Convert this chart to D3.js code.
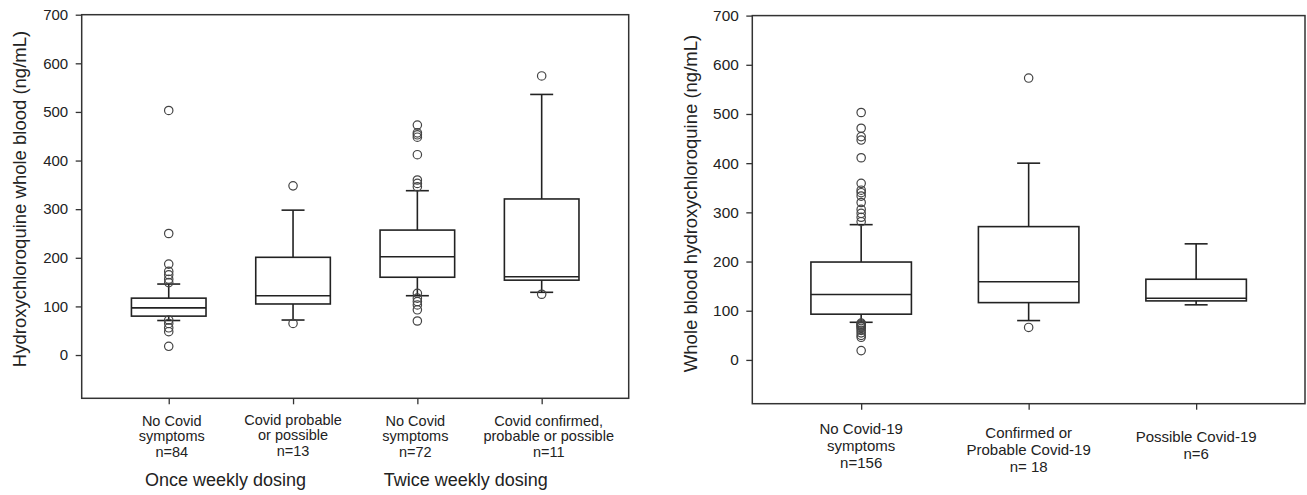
<!DOCTYPE html>
<html>
<head>
<meta charset="utf-8">
<script src="https://cdn.jsdelivr.net/npm/d3@7"></script>
<style>
  body { margin: 0; background: #fff; }
  svg { font-family: Arial, "Liberation Sans", sans-serif; }
</style>
</head>
<body>
<svg width="1307" height="495"></svg>
<script>
// Left panel: dosing groups
const leftLabels = [
  ["No Covid", "symptoms", "n=84"],
  ["Covid probable", "or possible", "n=13"],
  ["No Covid", "symptoms", "n=72"],
  ["Covid confirmed,", "probable or possible", "n=11"]
];
const leftQ1 = [80, 105, 160, 154];
const leftMedian = [97, 122, 202, 161];
const leftQ3 = [117, 201, 257, 321];
const leftWhiskerLow = [71, 72, 122, 129];
const leftWhiskerHigh = [146, 298, 338, 536];
const leftOutliers = [
  [503, 250, 187, 172, 165, 156, 149, 72, 65, 56, 48, 18],
  [348, 65],
  [473, 457, 453, 448, 412, 360, 353, 346, 127, 117, 110, 103, 93, 70],
  [574, 125]
];
const groupLabels = ["Once weekly dosing", "Twice weekly dosing"];

// Right panel: symptom groups
const rightLabels = [
  ["No Covid-19", "symptoms", "n=156"],
  ["Confirmed or", "Probable Covid-19", "n= 18"],
  ["Possible Covid-19", "n=6"]
];
const rightQ1 = [93, 116.5, 120];
const rightMedian = [133, 159, 125.5];
const rightQ3 = [199, 271, 164];
const rightWhiskerLow = [76.5, 80, 112];
const rightWhiskerHigh = [275, 400, 236];
const rightOutliers = [
  [503, 471, 454, 447, 411, 359, 345, 340, 333, 320, 306, 298, 290, 281,
   75, 73, 71, 69, 67, 64, 60, 55, 50, 46, 19],
  [573, 66],
  []
];

const yTicks = [0, 100, 200, 300, 400, 500, 600, 700];

const svg = d3.select("svg");
const ink = "#222";

function panel(opts) {
  const x = d3.scaleLinear().domain(opts.xDomain).range([opts.left, opts.right]);
  const y = d3.scaleLinear().domain([-89, 700]).range([opts.bottom, opts.top]);
  const g = svg.append("g");

  // frame
  g.append("rect")
    .attr("x", opts.left).attr("y", opts.top)
    .attr("width", opts.right - opts.left).attr("height", opts.bottom - opts.top)
    .attr("fill", "none").attr("stroke", "#333").attr("stroke-width", 1.5);

  const yAxis = g.append("g")
    .attr("transform", `translate(${opts.left},0)`)
    .call(d3.axisLeft(y).tickValues(yTicks).tickSize(6).tickPadding(7.5).tickSizeOuter(0));
  yAxis.select(".domain").remove();
  yAxis.selectAll("line").attr("stroke", "#333").attr("stroke-width", 1.3);
  yAxis.selectAll("text").attr("fill", ink).style("font-size", opts.tickFont + "px");

  const xAxis = g.append("g")
    .attr("transform", `translate(0,${opts.bottom})`)
    .call(d3.axisBottom(x).tickValues(opts.labels.map((d, i) => i + 1)).tickSize(6).tickFormat(""));
  xAxis.select(".domain").remove();
  xAxis.selectAll("line").attr("stroke", "#333").attr("stroke-width", 1.3);

  const bw = x(1.3) - x(1);   // half box width (0.6 units total)
  const cap = 11.5;

  opts.labels.forEach((lines, i) => {
    const cx = x(i + 1);
    const col = g.append("g");
    // whiskers
    col.append("line").attr("x1", cx).attr("x2", cx)
      .attr("y1", y(opts.q3[i])).attr("y2", y(opts.wHi[i]));
    col.append("line").attr("x1", cx).attr("x2", cx)
      .attr("y1", y(opts.q1[i])).attr("y2", y(opts.wLo[i]));
    col.append("line").attr("x1", cx - cap).attr("x2", cx + cap)
      .attr("y1", y(opts.wHi[i])).attr("y2", y(opts.wHi[i]));
    col.append("line").attr("x1", cx - cap).attr("x2", cx + cap)
      .attr("y1", y(opts.wLo[i])).attr("y2", y(opts.wLo[i]));
    // box
    col.append("rect")
      .attr("x", cx - bw).attr("width", 2 * bw)
      .attr("y", y(opts.q3[i])).attr("height", y(opts.q1[i]) - y(opts.q3[i]))
      .attr("fill", "none");
    col.append("line").attr("x1", cx - bw).attr("x2", cx + bw)
      .attr("y1", y(opts.med[i])).attr("y2", y(opts.med[i]));
    col.selectAll("line, rect").attr("stroke", ink).attr("stroke-width", 1.6);

    // outliers
    col.selectAll("circle").data(opts.out[i]).enter().append("circle")
      .attr("cx", cx).attr("cy", d => y(d)).attr("r", 4.2)
      .attr("fill", "none").attr("stroke", "#444").attr("stroke-width", 1.2);

    // category label
    const lh = opts.lineH;
    const startY = opts.labelMid - (lines.length - 1) * lh / 2 + (opts.labelShift[i] || 0);
    const t = g.append("text")
      .attr("text-anchor", "middle")
      .attr("fill", ink)
      .style("font-size", opts.labelFont + "px");
    lines.forEach((s, k) => {
      t.append("tspan").attr("x", cx + (opts.labelDx[i] || 0)).attr("y", startY + k * lh + opts.labelFont * 0.36).text(s);
    });
  });

  // y axis title
  svg.append("text")
    .attr("transform", `translate(${opts.titleX},${opts.titleY}) rotate(-90)`)
    .attr("text-anchor", "middle")
    .attr("fill", ink)
    .style("font-size", "18.5px")
    .text(opts.title);

  return x;
}

const xl = panel({
  left: 81.7, right: 628.7, top: 14.7, bottom: 398.3,
  xDomain: [0.3, 4.7],
  labels: leftLabels, q1: leftQ1, med: leftMedian, q3: leftQ3,
  wLo: leftWhiskerLow, wHi: leftWhiskerHigh, out: leftOutliers,
  tickFont: 15, labelFont: 14.5, lineH: 15.7, labelMid: 436,
  labelShift: [0, -1, 0, 0], labelDx: [3, 0, -2, 7],
  title: "Hydroxychloroquine whole blood (ng/mL)", titleX: 26, titleY: 199
});

svg.selectAll(".group-label")
  .data(groupLabels)
  .enter().append("text")
  .attr("class", "group-label")
  .attr("x", (d, i) => xl(i === 0 ? 1.457 : 3.39))
  .attr("y", 486)
  .attr("text-anchor", "middle")
  .attr("fill", ink)
  .style("font-size", "18px")
  .text(d => d);

panel({
  left: 752.3, right: 1305, top: 15.6, bottom: 403.7,
  xDomain: [0.35, 3.65],
  labels: rightLabels, q1: rightQ1, med: rightMedian, q3: rightQ3,
  wLo: rightWhiskerLow, wHi: rightWhiskerHigh, out: rightOutliers,
  tickFont: 15.4, labelFont: 15, lineH: 17, labelMid: 446,
  labelShift: [0, 4, -0.5], labelDx: [0, 0, 0],
  title: "Whole blood hydroxychloroquine (ng/mL)", titleX: 697, titleY: 203.5
});
</script>
</body>
</html>
